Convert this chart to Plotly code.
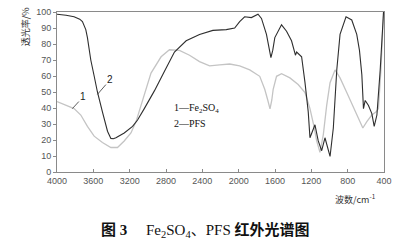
import plotly.graph_objects as go

# PFS (curve 2, dark)
pfs_wn = [4000, 3900, 3812, 3750, 3720, 3683, 3665, 3628, 3591, 3555, 3500, 3444, 3407, 3380, 3351,
          3260, 3168, 3113, 3039, 2928, 2818, 2707, 2578, 2431, 2284, 2136, 2044, 1989, 1934, 1860,
          1787, 1749, 1694, 1660, 1645, 1625, 1602, 1528, 1473, 1418, 1385, 1375, 1362, 1307, 1270,
          1234, 1215, 1186, 1160, 1124, 1086, 1050, 1024, 994, 958, 920, 884, 818, 755, 700, 670,
          644, 626, 607, 571, 534, 508, 478, 442, 405]
pfs_t = [98.6, 98, 97, 95.5, 94, 89, 84, 70, 60, 50, 37.6, 25.5, 21, 20.8, 21.4,
         24.4, 28.5, 32.5, 39.6, 50.7, 62.8, 75, 82, 86, 88.5, 89, 90, 94, 97, 96.5,
         98.6, 96, 86, 76, 71.5, 76, 84, 92, 88, 82, 76, 73, 75, 72, 56,
         37.6, 21.4, 25.5, 29.5, 19.4, 13.3, 21.4, 15.3, 9.7, 27.5, 63.8, 86, 97, 95, 86, 76,
         60.8, 39.6, 44.7, 41.6, 36.5, 28.5, 35.6, 63.8, 100]

# Fe2SO4 (curve 1, light)
fe_wn = [4000, 3886, 3812, 3738, 3665, 3591, 3500, 3407, 3334, 3260, 3186, 3130, 3057, 2965, 2854,
         2762, 2652, 2541, 2431, 2320, 2210, 2099, 1989, 1878, 1768, 1713, 1680, 1655, 1635, 1620,
         1583, 1528, 1436, 1345, 1270, 1215, 1171, 1141, 1105, 1068, 1031, 994, 939, 884, 810,
         718, 633, 589, 534, 486, 461, 434, 405]
fe_t = [44, 41.6, 39.6, 35.6, 28.5, 22.4, 18.4, 15.3, 15.3, 19.4, 24.4, 31.5, 45.6, 61.8, 72,
        76.4, 76, 73, 69, 66.3, 66.9, 67.5, 66.3, 63.8, 59.8, 51.7, 45, 39.5, 45, 51.7,
        59.8, 61.4, 58.8, 54.7, 49.7, 39.6, 28.5, 19.4, 12.3, 23.4, 41.6, 55.8, 63.8, 58.8, 49.7,
        37.6, 27.5, 31.5, 35.6, 37.6, 39.6, 63.8, 100]

x_ticks = [4000, 3600, 3200, 2800, 2400, 2000, 1600, 1200, 800, 400]
y_ticks = [0, 10, 20, 30, 40, 50, 60, 70, 80, 90, 100]

fig = go.Figure()
fig.add_trace(go.Scatter(x=fe_wn, y=fe_t, mode="lines",
                         line=dict(color="#c4c4c4", width=1.3), showlegend=False))
fig.add_trace(go.Scatter(x=pfs_wn, y=pfs_t, mode="lines",
                         line=dict(color="#2e2e2e", width=1.1), showlegend=False))

tickfont = dict(family="Liberation Sans, Arial", size=9, color="#555555")
fig.update_xaxes(range=[4000, 400], tickvals=x_ticks, ticktext=[str(v) for v in x_ticks],
                 showline=True, linecolor="#8a8a8a", linewidth=1, mirror=True,
                 ticks="inside", ticklen=3, tickcolor="#8a8a8a",
                 showgrid=False, zeroline=False, tickfont=tickfont)
fig.update_yaxes(range=[0, 100], tickvals=y_ticks,
                 showline=True, linecolor="#8a8a8a", linewidth=1, mirror=True,
                 ticks="outside", ticklen=3, tickcolor="#8a8a8a",
                 showgrid=False, zeroline=False, tickfont=tickfont)

serif = "Liberation Serif, Times New Roman, Noto Sans CJK SC"
annotations = [
    dict(x=3831, y=39.6, xref="x", yref="y", text="1", showarrow=True, arrowhead=0,
         arrowwidth=0.8, arrowcolor="#333", ax=11, ay=-12,
         font=dict(family="Liberation Sans", size=10, color="#222")),
    dict(x=3555, y=48.5, xref="x", yref="y", text="2", showarrow=True, arrowhead=0,
         arrowwidth=0.8, arrowcolor="#333", ax=13, ay=-15,
         font=dict(family="Liberation Sans", size=10, color="#222")),
    dict(x=0.352, y=0.394, xref="paper", yref="paper", xanchor="left", yanchor="middle",
         text="1—Fe<sub>2</sub>SO<sub>4</sub>", showarrow=False,
         font=dict(family=serif, size=10, color="#111")),
    dict(x=0.352, y=0.303, xref="paper", yref="paper", xanchor="left", yanchor="middle",
         text="2—PFS", showarrow=False,
         font=dict(family=serif, size=10, color="#111")),
    dict(x=-0.098, y=0.91, xref="paper", yref="paper", xanchor="center", yanchor="middle",
         text="透光率/%", textangle=-90, showarrow=False,
         font=dict(family="Noto Sans CJK SC", size=9, color="#333")),
    dict(x=0.845, y=-0.17, xref="paper", yref="paper", xanchor="left", yanchor="middle",
         text="波数/cm<sup>-1</sup>", showarrow=False,
         font=dict(family="Noto Sans CJK SC", size=9, color="#333")),
    dict(x=0.4526, y=-0.364, xref="paper", yref="paper", xanchor="center", yanchor="middle",
         text="<b>图 3</b>     Fe<sub>2</sub>SO<sub>4</sub>、PFS <b>红外光谱图</b>", showarrow=False,
         font=dict(family=serif, size=15, color="#111")),
]

fig.update_layout(width=416, height=242, margin=dict(l=57, r=32, t=7, b=70),
                  paper_bgcolor="white", plot_bgcolor="white",
                  annotations=annotations)

fig.write_html("out.html")
